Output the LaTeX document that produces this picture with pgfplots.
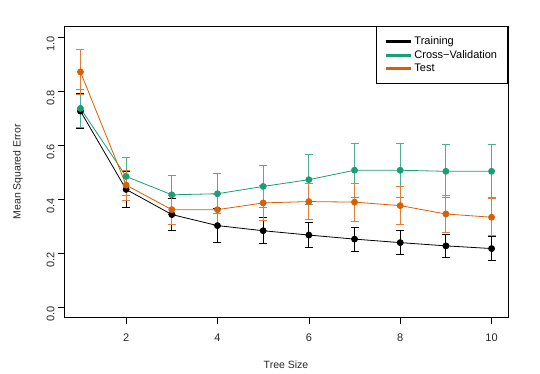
\documentclass[border=0pt]{standalone}
\usepackage{pgfplots}
\pgfplotsset{compat=1.18}
\usepackage{fontspec}
\setmainfont{Liberation Sans}
\definecolor{cvgreen}{RGB}{27,158,119}
\definecolor{testorange}{RGB}{217,95,2}
\begin{document}
\begin{tikzpicture}
\begin{axis}[
  at={(0,0)}, anchor=south west,
  scale only axis, width=444pt, height=291.7pt,
  xmin=0.64, xmax=10.36, ymin=-0.04, ymax=1.04,
  xtick={2,4,6,8,10}, ytick={0,0.2,0.4,0.6,0.8,1.0},
  yticklabel style={/pgf/number format/fixed, /pgf/number format/fixed zerofill, /pgf/number format/precision=1},
  /pgf/number format/assume math mode=true,
  tick align=outside, major tick length=6pt,
  xtick pos=left, ytick pos=left,
  tick style={black, line width=0.6pt},
  axis line style={black, line width=0.8pt},
  ticklabel style={font=\fontsize{11}{13}\selectfont, text=black!85},
  yticklabel style={rotate=90, anchor=south, xshift=-7pt},
  xticklabel style={yshift=-7pt},
  xlabel={Tree Size}, ylabel={Mean Squared Error},
  label style={font=\fontsize{10.5}{12}\selectfont, text=black!85},
  xlabel style={at={(axis description cs:0.5,-0.162)}, anchor=center},
  ylabel style={at={(axis description cs:-0.1036,0.5)}, anchor=center},
  legend style={at={(1,1)}, anchor=north east, draw=black, line width=0.8pt, fill=white,
    font=\fontsize{11}{13}\selectfont, inner xsep=8pt, inner ysep=8pt, row sep=-1pt,
    nodes={inner sep=2.5pt}},
  legend cell align=left,
  legend image code/.code={\draw[line width=2.8pt] (0pt,0pt) -- (25pt,0pt);},
]
\addlegendimage{black}
\addlegendentry{Training}
\addlegendimage{cvgreen}
\addlegendentry{Cross−Validation}
\addlegendimage{testorange}
\addlegendentry{Test}

\addplot[forget plot, black, line width=0.8pt, mark=*, mark size=3pt,
  error bars/.cd, y dir=both, y explicit, error bar style={line width=0.9pt, black},
  error mark options={mark size=4pt, line width=0.9pt, black, rotate=90}]
  table[x=x, y=y, y error=e] {
x y e
1 0.725 0.065
2 0.435 0.067
3 0.342 0.060
4 0.301 0.064
5 0.282 0.048
6 0.266 0.047
7 0.251 0.045
8 0.238 0.044
9 0.226 0.043
10 0.216 0.043
};
\addplot[forget plot, cvgreen, line width=0.8pt, mark=*, mark size=3pt,
  error bars/.cd, y dir=both, y explicit, error bar style={line width=0.9pt, cvgreen!80},
  error mark options={mark size=4pt, line width=0.9pt, cvgreen!80, rotate=90}]
  table[x=x, y=y, y error=e] {
x y e
1 0.735 0.070
2 0.483 0.072
3 0.415 0.072
4 0.419 0.074
5 0.446 0.079
6 0.471 0.093
7 0.506 0.099
8 0.506 0.099
9 0.502 0.098
10 0.502 0.098
};
\addplot[forget plot, testorange, line width=0.8pt, mark=*, mark size=3pt,
  error bars/.cd, y dir=both, y explicit, error bar style={line width=0.9pt, testorange!80},
  error mark options={mark size=4pt, line width=0.9pt, testorange!80, rotate=90}]
  table[x=x, y=y, y error=e] {
x y e
1 0.870 0.085
2 0.451 0.056
3 0.360 0.053
4 0.360 0.058
5 0.385 0.066
6 0.390 0.068
7 0.388 0.070
8 0.375 0.070
9 0.344 0.070
10 0.332 0.068
};
\end{axis}
\path (-64pt,-55.3pt) rectangle (476pt,317.7pt);
\end{tikzpicture}
\end{document}
